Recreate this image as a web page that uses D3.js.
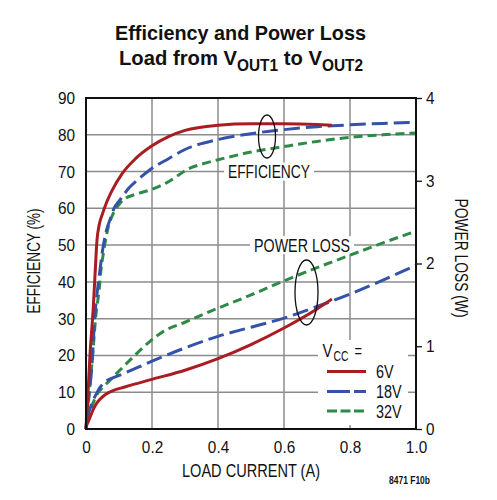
<!DOCTYPE html>
<html>
<head>
<meta charset="utf-8">
<script src="https://cdn.jsdelivr.net/npm/d3@7"></script>
<style>
  body { margin: 0; background: #fff; }
  text { font-family: "Liberation Sans", Arial, sans-serif; fill: #111; }
</style>
</head>
<body>
<div id="chart"></div>
<script>
// chart values
const vccLabels = ["6V", "18V", "32V"];
const colors = ["#a81c22", "#3453a8", "#2f8a47"];
const dashes = [null, "16,6", "9,5"];

const effCurrent6 = [0, 0.005, 0.012, 0.022, 0.028, 0.033, 0.04, 0.05, 0.062, 0.08, 0.11, 0.15, 0.2, 0.25, 0.3, 0.4, 0.5, 0.6, 0.7, 0.745];
const eff6 = [0, 8, 20, 33, 43, 51, 55.5, 58.5, 61.5, 65, 69.5, 73.5, 77, 79.5, 81.2, 82.6, 83, 83, 82.8, 82.6];
const effCurrent18 = [0, 0.005, 0.01, 0.017, 0.027, 0.035, 0.042, 0.052, 0.062, 0.073, 0.085, 0.103, 0.13, 0.16, 0.194, 0.25, 0.3, 0.4, 0.5, 0.6, 0.7, 0.8, 0.9, 1.0];
const eff18 = [0, 6, 10, 16, 31, 38, 43, 49.6, 54, 57, 60, 62.3, 65.5, 68, 70.5, 73.5, 76, 78.7, 80.3, 81.4, 82.2, 82.7, 83.1, 83.4];
const effCurrent32 = [0, 0.005, 0.01, 0.02, 0.03, 0.04, 0.045, 0.053, 0.065, 0.083, 0.1, 0.113, 0.15, 0.194, 0.245, 0.28, 0.305, 0.35, 0.4, 0.5, 0.6, 0.7, 0.8, 0.9, 1.0];
const eff32 = [0, 5, 10, 20, 31, 38, 43, 48, 54, 58.7, 61, 62.3, 63.8, 65, 67, 69, 70.5, 72, 73.2, 75.3, 76.8, 78.2, 79.3, 80, 80.5];

const lossCurrent6 = [0, 0.01, 0.02, 0.032, 0.045, 0.06, 0.08, 0.12, 0.2, 0.3, 0.4, 0.5, 0.6, 0.7, 0.745];
const loss6 = [0.03, 0.12, 0.22, 0.31, 0.37, 0.42, 0.46, 0.51, 0.6, 0.71, 0.85, 1.02, 1.22, 1.45, 1.57];
const lossCurrent18 = [0, 0.01, 0.02, 0.032, 0.042, 0.053, 0.065, 0.083, 0.12, 0.2, 0.3, 0.4, 0.5, 0.6, 0.7, 0.8, 0.9, 1.0];
const loss18 = [0.12, 0.22, 0.33, 0.43, 0.5, 0.55, 0.59, 0.62, 0.68, 0.82, 0.98, 1.12, 1.23, 1.34, 1.48, 1.63, 1.8, 1.98];
const lossCurrent32 = [0, 0.01, 0.02, 0.032, 0.05, 0.073, 0.1, 0.143, 0.194, 0.235, 0.3, 0.4, 0.5, 0.6, 0.7, 0.8, 0.9, 1.0];
const loss32 = [0.1, 0.2, 0.3, 0.41, 0.5, 0.59, 0.7, 0.87, 1.06, 1.18, 1.29, 1.46, 1.62, 1.79, 1.95, 2.1, 2.25, 2.39];

const xTicks = [0, 0.2, 0.4, 0.6, 0.8, 1.0];
const effTicks = [0, 10, 20, 30, 40, 50, 60, 70, 80, 90];
const lossTicks = [0, 1, 2, 3, 4];

const width = 497, height = 500;
const plot = { left: 86, right: 416, top: 98, bottom: 429 };

const svg = d3.select("#chart").append("svg")
    .attr("width", width)
    .attr("height", height);

const x = d3.scaleLinear().domain([0, 1]).range([plot.left, plot.right]);
const yEff = d3.scaleLinear().domain([0, 90]).range([plot.bottom, plot.top]);
const yLoss = d3.scaleLinear().domain([0, 4]).range([plot.bottom, plot.top]);

// the original uses a condensed face; squeeze Liberation Sans to the measured widths
function squeeze(sel, k) {
    sel.each(function () {
        const len = this.getComputedTextLength();
        d3.select(this).attr("textLength", len * k).attr("lengthAdjust", "spacingAndGlyphs");
    });
}
function fitTo(sel, len) {
    sel.attr("textLength", len).attr("lengthAdjust", "spacingAndGlyphs");
}

// title
const t1 = svg.append("text")
    .attr("x", 240.5).attr("y", 40)
    .attr("text-anchor", "middle")
    .style("font-size", "21px").style("font-weight", "bold")
    .text("Efficiency and Power Loss");
fitTo(t1, 251);
const t2 = svg.append("text")
    .attr("x", 241).attr("y", 65)
    .attr("text-anchor", "middle")
    .style("font-size", "21px").style("font-weight", "bold");
t2.append("tspan").text("Load from V");
t2.append("tspan").attr("dy", 6).style("font-size", "16px").text("OUT1");
t2.append("tspan").attr("dy", -6).text(" to V");
t2.append("tspan").attr("dy", 6).style("font-size", "16px").text("OUT2");
fitTo(t2, 244);

// grid
const grid = svg.append("g").attr("stroke", "#8c8c8c").attr("stroke-width", 1.5);
grid.selectAll("line.v").data(xTicks.slice(1, -1)).join("line")
    .attr("x1", d => x(d)).attr("x2", d => x(d))
    .attr("y1", plot.top).attr("y2", plot.bottom);
grid.selectAll("line.h").data(effTicks.slice(1, -1)).join("line")
    .attr("x1", plot.left).attr("x2", plot.right)
    .attr("y1", d => yEff(d)).attr("y2", d => yEff(d));

// tick labels via d3 axes
const fmtX = d => d === 0 ? "0" : d.toFixed(1);
const axB = svg.append("g").attr("transform", `translate(0,${plot.bottom})`)
    .call(d3.axisBottom(x).tickValues(xTicks).tickSize(0).tickPadding(12).tickFormat(fmtX));
const axL = svg.append("g").attr("transform", `translate(${plot.left},0)`)
    .call(d3.axisLeft(yEff).tickValues(effTicks).tickSize(0).tickPadding(11));
const axR = svg.append("g").attr("transform", `translate(${plot.right},0)`)
    .call(d3.axisRight(yLoss).tickValues(lossTicks).tickSize(6).tickPadding(4).tickFormat(d3.format("d")));
[axB, axL, axR].forEach(a => {
    a.select(".domain").remove();
    a.selectAll("text").style("font-size", "17px").attr("fill", "#111");
    a.selectAll("line").attr("stroke", "#111").attr("stroke-width", 1.3);
    squeeze(a.selectAll("text"), 0.9);
});

// annotation labels on white
function label(txt, cx, cy, w) {
    svg.append("rect").attr("x", cx - w / 2 - 4).attr("y", cy - 9).attr("width", w + 8).attr("height", 18).attr("fill", "#fff");
    const t = svg.append("text").attr("x", cx).attr("y", cy + 6.5).attr("text-anchor", "middle")
        .style("font-size", "18px").text(txt);
    fitTo(t, w);
}

label("EFFICIENCY", 269, yEff(70), 82);
label("POWER LOSS", 302, yEff(50), 96);

// legend box
svg.append("rect").attr("x", 318).attr("y", 340).attr("width", 90).attr("height", 85).attr("fill", "#fff");

// curves
const line = d3.line().x(d => x(d[0])).y(d => d[1]).curve(d3.curveMonotoneX);
const effSeries = [[effCurrent6, eff6], [effCurrent18, eff18], [effCurrent32, eff32]];
const lossSeries = [[lossCurrent6, loss6], [lossCurrent18, loss18], [lossCurrent32, loss32]];

[2, 1, 0].forEach(i => {
    const [cx, ev] = effSeries[i];
    const [lx, lv] = lossSeries[i];
    const effPts = cx.map((c, k) => [c, yEff(ev[k])]);
    const lossPts = lx.map((c, k) => [c, yLoss(lv[k])]);
    [effPts, lossPts].forEach(pts => {
        svg.append("path").attr("d", line(pts))
            .attr("fill", "none").attr("stroke", colors[i])
            .attr("stroke-width", 3)
            .attr("stroke-dasharray", dashes[i]);
    });
});

// ellipses
svg.append("ellipse").attr("cx", 267).attr("cy", 136.5).attr("rx", 8.5).attr("ry", 21.5)
    .attr("fill", "none").attr("stroke", "#111").attr("stroke-width", 1.3);
svg.append("ellipse").attr("cx", 306.5).attr("cy", 292.5).attr("rx", 11.5).attr("ry", 32.5)
    .attr("fill", "none").attr("stroke", "#111").attr("stroke-width", 1.3);

// frame
svg.append("rect").attr("x", plot.left).attr("y", plot.top)
    .attr("width", plot.right - plot.left).attr("height", plot.bottom - plot.top)
    .attr("fill", "none").attr("stroke", "#111").attr("stroke-width", 2);

// legend
const v1 = svg.append("text").attr("x", 322.5).attr("y", 357).style("font-size", "18px").text("V");
fitTo(v1, 10);
const v2 = svg.append("text").attr("x", 333.5).attr("y", 361).style("font-size", "14px").text("CC");
fitTo(v2, 15);
const v3 = svg.append("text").attr("x", 354.5).attr("y", 357).style("font-size", "18px").text("=");
fitTo(v3, 7.5);
const legY = [371.5, 391.5, 411];
vccLabels.forEach((lab, i) => {
    svg.append("line").attr("x1", 327).attr("x2", 366).attr("y1", legY[i]).attr("y2", legY[i])
        .attr("stroke", colors[i]).attr("stroke-width", 3)
        .attr("stroke-dasharray", i === 0 ? null : (i === 1 ? "23,4" : "10,3.5"));
    const t = svg.append("text").attr("x", 376).attr("y", legY[i] + 6.5).style("font-size", "18px").text(lab);
    squeeze(t, 0.8);
});

// axis titles
const yt1 = svg.append("text").attr("transform", `translate(39.5,261) rotate(-90)`)
    .attr("text-anchor", "middle").style("font-size", "18px").text("EFFICIENCY (%)");
fitTo(yt1, 105);
const yt2 = svg.append("text").attr("transform", `translate(455,258) rotate(90)`)
    .attr("text-anchor", "middle").style("font-size", "18px").text("POWER LOSS (W)");
fitTo(yt2, 119);
const xt = svg.append("text").attr("x", 251).attr("y", 477)
    .attr("text-anchor", "middle").style("font-size", "18px").text("LOAD CURRENT (A)");
fitTo(xt, 138);
const note = svg.append("text").attr("x", 409.5).attr("y", 484)
    .attr("text-anchor", "middle").style("font-size", "10px").style("font-weight", "bold").text("8471 F10b");
fitTo(note, 41);
</script>
</body>
</html>
